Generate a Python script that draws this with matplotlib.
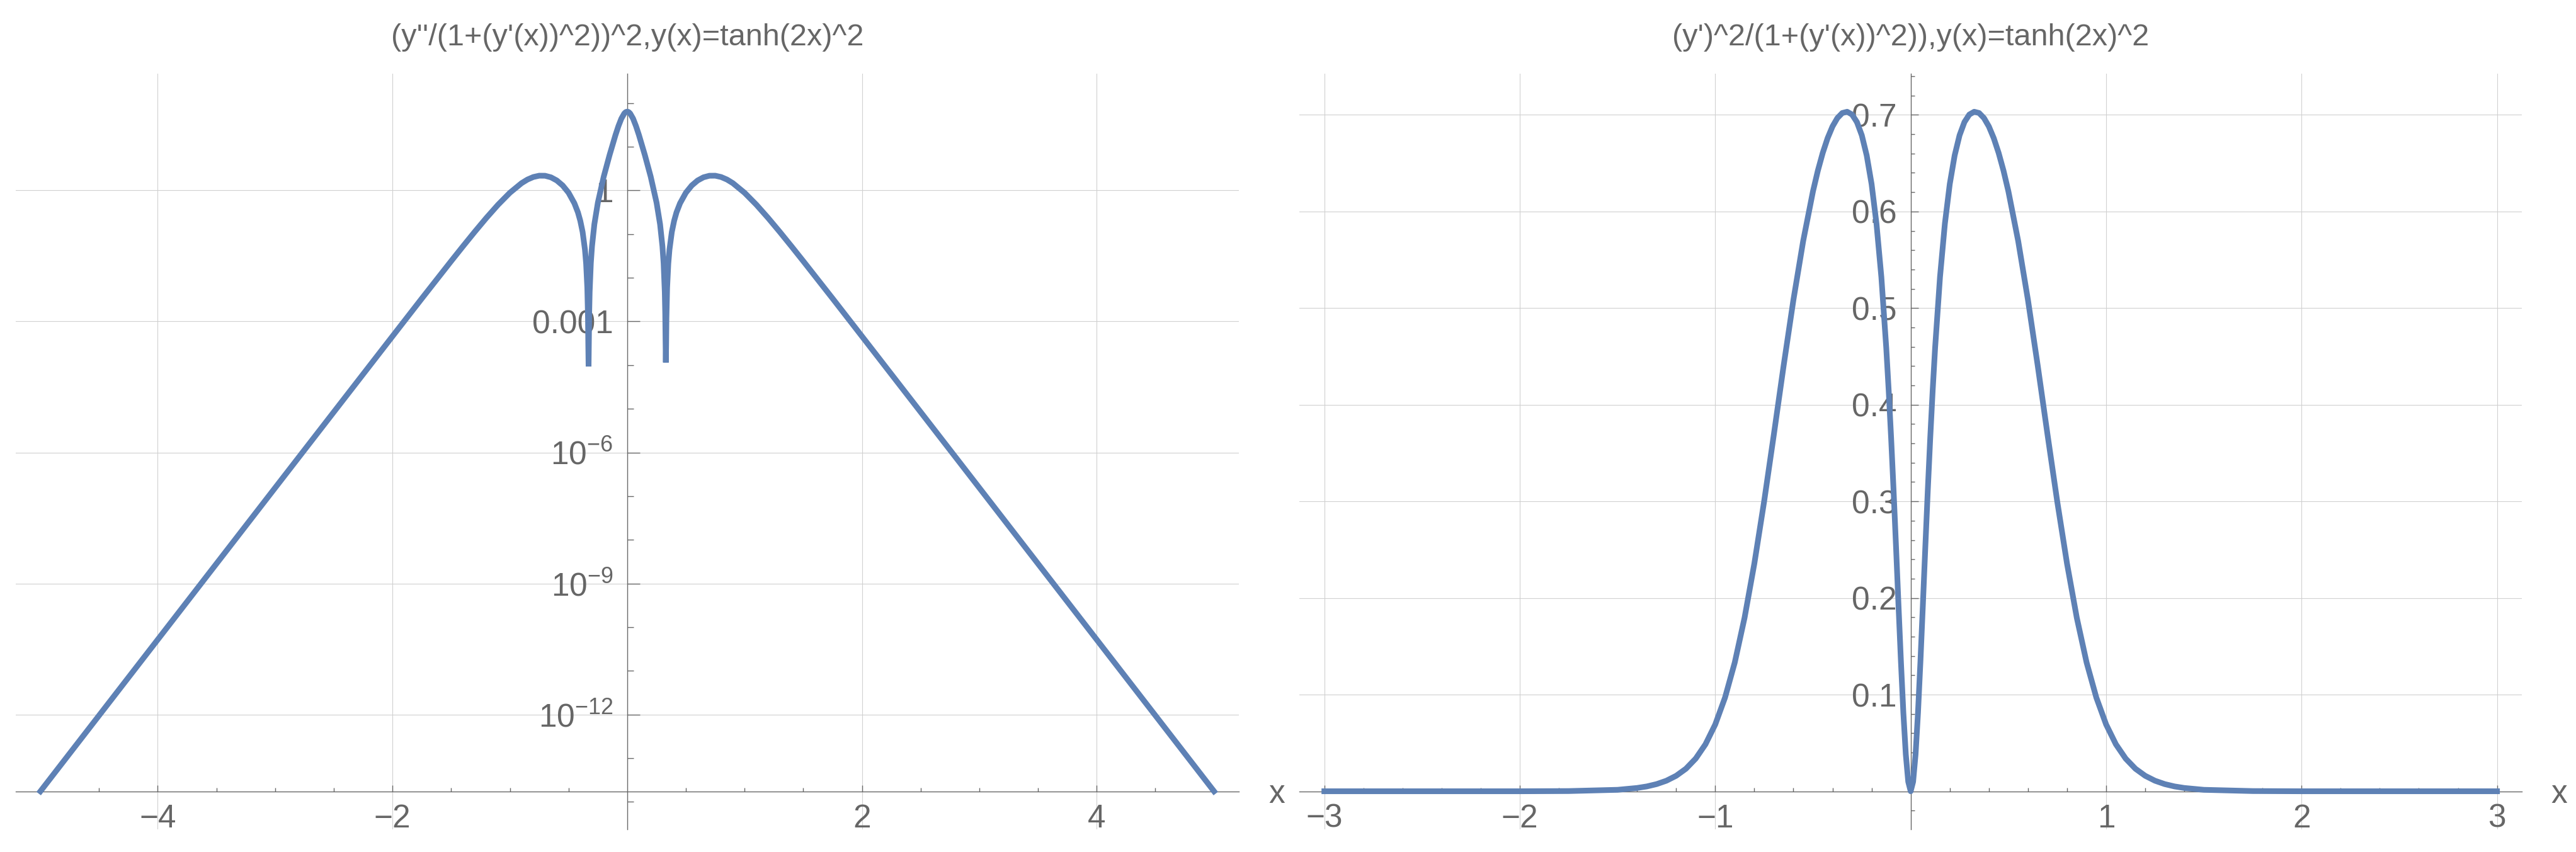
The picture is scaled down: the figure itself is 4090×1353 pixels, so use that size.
import matplotlib
matplotlib.use("Agg")
import matplotlib.pyplot as plt
from matplotlib.ticker import FixedLocator, FixedFormatter, NullFormatter

plt.rcParams['font.family'] = ['Liberation Sans', 'DejaVu Sans']
plt.rcParams['mathtext.fontset'] = 'custom'
plt.rcParams['mathtext.rm'] = 'Liberation Sans'
plt.rcParams['mathtext.it'] = 'Liberation Sans:italic'
plt.rcParams['mathtext.default'] = 'regular'

# Left panel: (y''/(1+y'^2))^2
left_x = [-5.0, -4.0, -3.0, -2.5, -2.0, -1.75, -1.5, -1.4, -1.3, -1.2, -1.1, -1.0,
          -0.9, -0.85, -0.8, -0.75, -0.7, -0.65, -0.6, -0.55, -0.5, -0.45, -0.42,
          -0.4, -0.38, -0.36, -0.35, -0.34, -0.334, -0.3315, -0.3292, -0.3265,
          -0.324, -0.32, -0.31, -0.3, -0.28, -0.25, -0.2, -0.15, -0.1, -0.075,
          -0.05, -0.025, -0.0125, 0.0,
          0.0125, 0.025, 0.05, 0.075, 0.1, 0.15, 0.2, 0.25, 0.28, 0.3, 0.31, 0.32,
          0.324, 0.3265, 0.3292, 0.3315, 0.334, 0.34, 0.35, 0.36, 0.38, 0.4, 0.42,
          0.45, 0.5, 0.55, 0.6, 0.65, 0.7, 0.75, 0.8, 0.85, 0.9, 1.0, 1.1, 1.2, 1.3,
          1.4, 1.5, 1.75, 2.0, 2.5, 3.0, 4.0, 5.0]
left_y = [1.74e-14, 5.19e-11, 1.55e-7, 8.44e-6, 4.58e-4, 3.36e-3, 0.0241, 0.0524,
          0.1124, 0.2354, 0.473, 0.885,
          1.471, 1.778, 2.032, 2.178, 2.172, 2.001, 1.693, 1.302, 0.889, 0.508, 0.315,
          0.203, 0.1119, 0.0440, 0.0210, 5.9e-3, 1.18e-3, 2.8e-4, 9.3e-5, 3.9e-4,
          1.51e-3, 4.77e-3, 0.0217, 0.0528, 0.168, 0.527, 2.08, 6.52, 18.57, 29.7,
          44.2, 58.0, 62.4, 64.0,
          62.4, 58.0, 44.2, 29.7, 18.57, 6.52, 2.08, 0.527, 0.168, 0.0528, 0.0217, 4.77e-3,
          1.51e-3, 3.9e-4, 1.15e-4, 2.8e-4, 1.18e-3, 5.9e-3, 0.0210, 0.0440, 0.1119, 0.203, 0.315,
          0.508, 0.889, 1.302, 1.693, 2.001, 2.172, 2.178, 2.032, 1.778, 1.471, 0.885, 0.473, 0.2354,
          0.1124, 0.0524, 0.0241, 3.36e-3, 4.58e-4, 8.44e-6, 1.55e-7, 5.19e-11, 1.74e-14]

# Right panel: y'^2/(1+y'^2)
right_x = [-3.0, -2.0, -1.75, -1.5, -1.4, -1.35, -1.3, -1.25, -1.2, -1.15, -1.1, -1.05,
           -1.0, -0.95, -0.9, -0.85,
           -0.8, -0.75, -0.7, -0.65, -0.6, -0.55, -0.5, -0.475, -0.45, -0.425, -0.4,
           -0.375, -0.35, -0.325, -0.3, -0.275, -0.25, -0.225, -0.2, -0.175, -0.15,
           -0.125, -0.1125, -0.1, -0.0875, -0.075, -0.0625, -0.05, -0.0375, -0.025,
           -0.0125, 0.0,
           0.0125, 0.025, 0.0375, 0.05, 0.0625, 0.075, 0.0875, 0.1, 0.1125, 0.125,
           0.15, 0.175, 0.2, 0.225, 0.25, 0.275, 0.3, 0.325, 0.35, 0.375, 0.4, 0.425,
           0.45, 0.475, 0.5, 0.55, 0.6, 0.65, 0.7, 0.75, 0.8, 0.85, 0.9, 0.95, 1.0,
           1.05, 1.1, 1.15, 1.2, 1.25, 1.3, 1.35, 1.4, 1.5, 1.75, 2.0, 3.0]
right_y = [0.0, 0.0, 0.0002, 0.0015, 0.0034, 0.0050, 0.0074, 0.0109, 0.0160, 0.0233,
           0.0338, 0.0486,
           0.0691, 0.0969, 0.1333, 0.1795,
           0.2355, 0.2997, 0.3693, 0.4405, 0.5085, 0.5695, 0.6208, 0.6422, 0.6606,
           0.6759, 0.6880,
           0.6967, 0.7019, 0.7032, 0.7003, 0.6925, 0.6788, 0.6580, 0.6284, 0.5874, 0.5321,
           0.4589, 0.4147, 0.3654, 0.3112, 0.2532, 0.1934, 0.1348, 0.0814, 0.0382,
           0.0099, 0.0,
           0.0099, 0.0382, 0.0814, 0.1348, 0.1934, 0.2532, 0.3112, 0.3654, 0.4147, 0.4589,
           0.5321, 0.5874, 0.6284, 0.6580, 0.6788, 0.6925, 0.7003, 0.7032, 0.7019, 0.6967,
           0.6880, 0.6759,
           0.6606, 0.6422, 0.6208, 0.5695, 0.5085, 0.4405, 0.3693, 0.2997, 0.2355, 0.1795,
           0.1333, 0.0969, 0.0691,
           0.0486, 0.0338, 0.0233, 0.0160, 0.0109, 0.0074, 0.0050, 0.0034, 0.0015, 0.0002,
           0.0, 0.0]

left_title = "(y''/(1+(y'(x))^2))^2,y(x)=tanh(2x)^2"
right_title = "(y')^2/(1+(y'(x))^2)),y(x)=tanh(2x)^2"

left_xticks = [-4, -2, 2, 4]
left_xlabels = ['\u22124', '\u22122', '2', '4']
left_yticks = [1e-12, 1e-9, 1e-6, 1e-3, 1.0]
left_ylabels = ['$10^{-12}$', '$10^{-9}$', '$10^{-6}$', '0.001', '1']
right_xticks = [-3, -2, -1, 1, 2, 3]
right_xlabels = ['\u22123', '\u22122', '\u22121', '1', '2', '3']
right_yticks = [0.1, 0.2, 0.3, 0.4, 0.5, 0.6, 0.7]
right_ylabels = ['0.1', '0.2', '0.3', '0.4', '0.5', '0.6', '0.7']

line_color = '#5E81B5'
gray = '#666666'
grid_gray = '#d0d0d0'

W, H = 4091, 1353
fig = plt.figure(figsize=(W / 100, H / 100), dpi=100)


def style_axes(ax, xmajor, xlabels, xminor, ymajor, ylabels, yminor, ymaj_len, ymin_len, ybase):
    for s in ['top', 'right']:
        ax.spines[s].set_visible(False)
    ax.spines['left'].set_position(('data', 0))
    ax.spines['bottom'].set_position(('data', ybase))
    for s in ['left', 'bottom']:
        ax.spines[s].set_color(gray)
        ax.spines[s].set_linewidth(1.0)
    ax.xaxis.set_major_locator(FixedLocator(xmajor))
    ax.xaxis.set_major_formatter(FixedFormatter(xlabels))
    ax.xaxis.set_minor_locator(FixedLocator(xminor))
    ax.xaxis.set_minor_formatter(NullFormatter())
    ax.yaxis.set_major_locator(FixedLocator(ymajor))
    ax.yaxis.set_major_formatter(FixedFormatter(ylabels))
    ax.yaxis.set_minor_locator(FixedLocator(yminor))
    ax.yaxis.set_minor_formatter(NullFormatter())
    ax.tick_params(axis='both', which='both', direction='in', color=gray, width=1.0,
                   labelcolor=gray, labelsize=37)
    ax.tick_params(axis='x', which='major', length=7.2, pad=14)
    ax.tick_params(axis='x', which='minor', length=4.3)
    ax.tick_params(axis='y', which='major', length=ymaj_len, pad=16)
    ax.tick_params(axis='y', which='minor', length=ymin_len)
    ax.grid(True, which='major', color=grid_gray, linewidth=0.8)
    ax.set_axisbelow(True)


# left panel
ax1 = fig.add_axes([25 / W, 1 - 1317 / H, (1966.7 - 25) / W, (1317 - 117.3) / H])
ax1.set_yscale('log')
ax1.plot(left_x, left_y, color=line_color, lw=6.5, solid_capstyle='projecting',
         solid_joinstyle='bevel', zorder=3)
ax1.set_xlim(-5.21, 5.21)
ax1.set_ylim(10 ** -14.63, 10 ** 2.67)
xminor1 = [v / 2 for v in range(-10, 11) if v % 4 != 0]
yminor1 = [10.0 ** k for k in range(-14, 3) if k % 3 != 0]
style_axes(ax1, left_xticks, left_xlabels, xminor1, left_yticks, left_ylabels, yminor1,
           14.4, 7.2, min(left_y))

# right panel
ax2 = fig.add_axes([2063.3 / W, 1 - 1317 / H, (4004 - 2063.3) / W, (1317 - 117.3) / H])
ax2.plot(right_x, right_y, color=line_color, lw=6.5, solid_capstyle='projecting',
         solid_joinstyle='round', zorder=3)
ax2.set_xlim(-3.127, 3.127)
ax2.set_ylim(-0.0394, 0.7424)
xminor2 = [round(v * 0.2, 1) for v in range(-15, 16) if v % 5 != 0]
yminor2 = [round(v * 0.02, 2) for v in range(-1, 38) if v % 5 != 0]
style_axes(ax2, right_xticks, right_xlabels, xminor2, right_yticks, right_ylabels, yminor2,
           8.6, 4.3, 0.0)

# titles and axis labels
fig.text((25 + 1966.7) / 2 / W, 1 - 72 / H, left_title, ha='center', va='baseline',
         fontsize=35, color=gray)
fig.text((2063.3 + 4004) / 2 / W, 1 - 72 / H, right_title, ha='center', va='baseline',
         fontsize=35, color=gray)
fig.text(2027 / W, 1 - 1275 / H, 'x', ha='center', va='baseline', fontsize=37, color=gray)
fig.text(4063 / W, 1 - 1275 / H, 'x', ha='center', va='baseline', fontsize=37, color=gray)

fig.savefig('out.png', dpi=100, facecolor='white')
